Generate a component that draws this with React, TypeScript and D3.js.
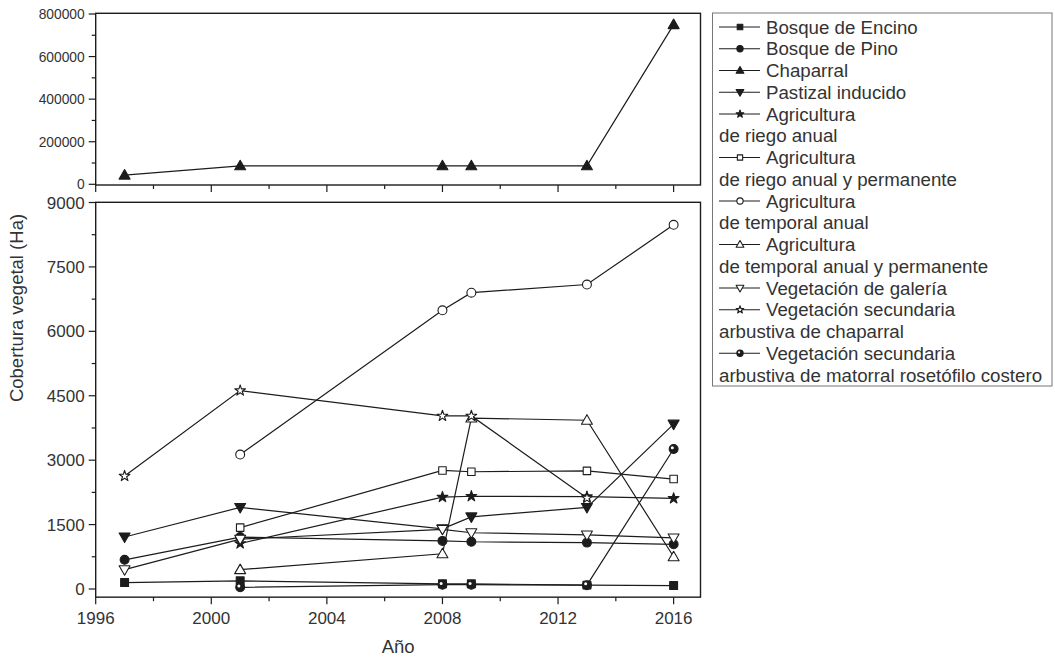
import React from "react";
import * as d3 from "d3";

// ---- data ----
const years = [1997, 2001, 2008, 2009, 2013, 2016];
const bosqueEncino = [150, 190, 120, 120, 90, 80];
const bosquePino = [680, 1210, 1120, 1100, 1080, 1040];
const chaparral = [43000, 87000, 87000, 87000, 87000, 750000];
const pastizalInducido = [1210, 1900, 1400, 1680, 1900, 3840];
const agriRiegoAnual = [null, 1060, 2140, 2160, 2150, 2110];
const agriRiegoAnualPerm = [null, 1430, 2760, 2730, 2750, 2560];
const agriTemporalAnual = [null, 3130, 6490, 6900, 7090, 8480];
const agriTemporalAnualPerm = [null, 450, 820, 3980, 3930, 750];
const vegGaleria = [450, 1160, 1390, 1310, 1260, 1190];
const vegSecChaparral = [2630, 4620, 4030, 4030, 2120, null];
const vegSecMatorral = [null, 40, 100, 100, 90, 3260];

const seriesLabels = [
  "Bosque de Encino",
  "Bosque de Pino",
  "Chaparral",
  "Pastizal inducido",
  "Agricultura\nde riego anual",
  "Agricultura\nde riego anual y permanente",
  "Agricultura\nde temporal anual",
  "Agricultura\nde temporal anual y permanente",
  "Vegetación de galería",
  "Vegetación secundaria\narbustiva de chaparral",
  "Vegetación secundaria\narbustiva de matorral rosetófilo costero",
];
const seriesValues = [
  bosqueEncino, bosquePino, chaparral, pastizalInducido, agriRiegoAnual,
  agriRiegoAnualPerm, agriTemporalAnual, agriTemporalAnualPerm, vegGaleria,
  vegSecChaparral, vegSecMatorral,
];
const topPanelSeries = [2]; // Chaparral index

const xTicksMajor = [1996, 2000, 2004, 2008, 2012, 2016];
const xTicksMinor = [1998, 2002, 2006, 2010, 2014];
const yBotTicks = [0, 1500, 3000, 4500, 6000, 7500, 9000];
const yBotMinor = [750, 2250, 3750, 5250, 6750, 8250];
const yTopTicks = [0, 200000, 400000, 600000, 800000];
const yTopMinor = [100000, 300000, 500000, 700000];

const xAxisTitle = "Año";
const yAxisTitle = "Cobertura vegetal (Ha)";

// ---- styles ----
const shapes = [
  "square", "circle", "triangle", "triangleDown", "star",
  "squareO", "circleO", "triangleO", "triangleDownO", "starO", "half",
];
const FONT = "'Liberation Sans', Arial, sans-serif";
const INK = "#1c1c1c";
const TXT = "#333";

function Marker({ shape, x, y, s }: { shape: string; x: number; y: number; s: number }) {
  const open = shape.endsWith("O");
  const base = open ? shape.slice(0, -1) : shape;
  const fill = open ? "#fff" : INK;
  let type: any = d3.symbolSquare;
  let size = 64 * s;
  let rot = 0;
  let dy = 0;
  if (base === "circle" || base === "half") { type = d3.symbolCircle; size = 62 * s; }
  if (base === "triangle") { type = d3.symbolTriangle; size = 52 * s; dy = 0.8 * Math.sqrt(s); }
  if (base === "triangleDown") { type = d3.symbolTriangle; size = 52 * s; rot = 180; dy = -0.8 * Math.sqrt(s); }
  if (base === "star") { type = d3.symbolStar; size = 36 * s; }
  if (base === "square") size = (open ? 56 : 62) * s;
  const d = d3.symbol().type(type).size(size)() as string;
  return (
    <g transform={`translate(${x},${y + dy}) rotate(${rot})`}>
      <path d={d} fill={fill} stroke={INK} strokeWidth={1.1} strokeLinejoin="round" />
      {base === "half" && (
        <circle cx={-1.3 * Math.sqrt(s)} cy={-1.3 * Math.sqrt(s)} r={1.5 * Math.sqrt(s)} fill="#fff" />
      )}
    </g>
  );
}

export default function App() {
  const left = 95.7;
  const right = 700.5;
  const x = d3.scaleLinear().domain([1996, 2016.93]).range([left, right]);
  const yTop = d3.scaleLinear().domain([0, 800000]).range([184.3, 14]);
  const yBot = d3.scaleLinear().domain([0, 9000]).range([589, 202.5]);
  const topFrame = { y0: 13.3, y1: 185 };
  const botFrame = { y0: 202.3, y1: yBot(-190) };

  const mkLine = (ys: any) =>
    d3.line<number | null>()
      .defined((d) => d !== null)
      .x((_, i) => x(years[i]))
      .y((d) => ys(d as number));

  const xAxis = (yAx: number, labels: boolean) => (
    <g>
      {xTicksMajor.map((t) => (
        <line key={"M" + t} x1={x(t)} x2={x(t)} y1={yAx} y2={yAx + 7} stroke={INK} strokeWidth={1.2} />
      ))}
      {xTicksMinor.map((t) => (
        <line key={"m" + t} x1={x(t)} x2={x(t)} y1={yAx} y2={yAx + 4} stroke={INK} strokeWidth={1.2} />
      ))}
      {labels && xTicksMajor.map((t) => (
        <text key={"l" + t} x={x(t)} y={yAx + 27} textAnchor="middle" fontSize={17} fill={TXT} fontFamily={FONT}>
          {t}
        </text>
      ))}
    </g>
  );

  const yAxis = (scale: any, major: number[], minor: number[], fs: number) => (
    <g>
      {major.map((t) => (
        <line key={"M" + t} x1={left - 7} x2={left} y1={scale(t)} y2={scale(t)} stroke={INK} strokeWidth={1.2} />
      ))}
      {minor.map((t) => (
        <line key={"m" + t} x1={left - 4} x2={left} y1={scale(t)} y2={scale(t)} stroke={INK} strokeWidth={1.2} />
      ))}
      {major.map((t) => (
        <text key={"l" + t} x={left - 11} y={scale(t)} dy="0.36em" textAnchor="end" fontSize={fs} fill={TXT} fontFamily={FONT}>
          {t}
        </text>
      ))}
    </g>
  );

  const drawSeries = (idxs: number[], ys: any, clipId: string) =>
    idxs.map((si) => {
      const vals = seriesValues[si];
      return (
        <g key={si} clipPath={`url(#${clipId})`}>
          <path d={mkLine(ys)(vals as any) as string} fill="none" stroke={INK} strokeWidth={1.2} />
          {vals.map((v, i) =>
            v === null ? null : <Marker key={i} shape={shapes[si]} x={x(years[i])} y={ys(v)} s={1} />
          )}
        </g>
      );
    });

  const botSeries = seriesValues.map((_, i) => i).filter((i) => !topPanelSeries.includes(i));

  // legend
  const legX = 712.5;
  const legY = 13;
  const legW = 339.5;
  const legH = 373;
  const rowH = 21.75;
  const firstY = 27;
  let row = 0;
  const legendItems: any[] = [];
  seriesLabels.forEach((lab, si) => {
    const parts = lab.split("\n");
    const cy = firstY + row * rowH;
    legendItems.push(
      <g key={si}>
        <line x1={719} x2={760} y1={cy} y2={cy} stroke={INK} strokeWidth={1.1} />
        <Marker shape={shapes[si]} x={740} y={cy} s={0.5} />
        <text x={766} y={cy} dy="0.35em" fontSize={18.7} fill={TXT} fontFamily={FONT}>{parts[0]}</text>
        {parts.slice(1).map((p, k) => (
          <text key={k} x={719} y={cy + (k + 1) * rowH} dy="0.35em" fontSize={18.7} fill={TXT} fontFamily={FONT}>{p}</text>
        ))}
      </g>
    );
    row += parts.length;
  });

  return (
    <svg width={1055} height={657} style={{ position: "absolute", left: 0, top: 0, display: "block", background: "#fff" }}>
      <defs>
        <clipPath id="clipTop"><rect x={left} y={topFrame.y0 - 6} width={right - left} height={topFrame.y1 - topFrame.y0 + 6} /></clipPath>
        <clipPath id="clipBot"><rect x={left} y={botFrame.y0} width={right - left} height={botFrame.y1 - botFrame.y0} /></clipPath>
      </defs>
      <rect width={1055} height={657} fill="#fff" />

      {/* top panel */}
      {drawSeries(topPanelSeries, yTop, "clipTop")}
      <rect x={left} y={topFrame.y0} width={right - left} height={topFrame.y1 - topFrame.y0} fill="none" stroke={INK} strokeWidth={1.4} />
      {xAxis(topFrame.y1, false)}
      {yAxis(yTop, yTopTicks, yTopMinor, 13.8)}

      {/* bottom panel */}
      {drawSeries(botSeries, yBot, "clipBot")}
      <rect x={left} y={botFrame.y0} width={right - left} height={botFrame.y1 - botFrame.y0} fill="none" stroke={INK} strokeWidth={1.4} />
      {xAxis(botFrame.y1, true)}
      {yAxis(yBot, yBotTicks, yBotMinor, 17)}

      <text x={(left + right) / 2} y={653} textAnchor="middle" fontSize={18.5} fill={TXT} fontFamily={FONT}>{xAxisTitle}</text>
      <text transform={`translate(23,${308}) rotate(-90)`} textAnchor="middle" fontSize={18.5} fill={TXT} fontFamily={FONT}>{yAxisTitle}</text>

      {/* legend */}
      <rect x={legX} y={legY} width={legW} height={legH} fill="#fff" stroke="#777" strokeWidth={1} />
      {legendItems}
    </svg>
  );
}
